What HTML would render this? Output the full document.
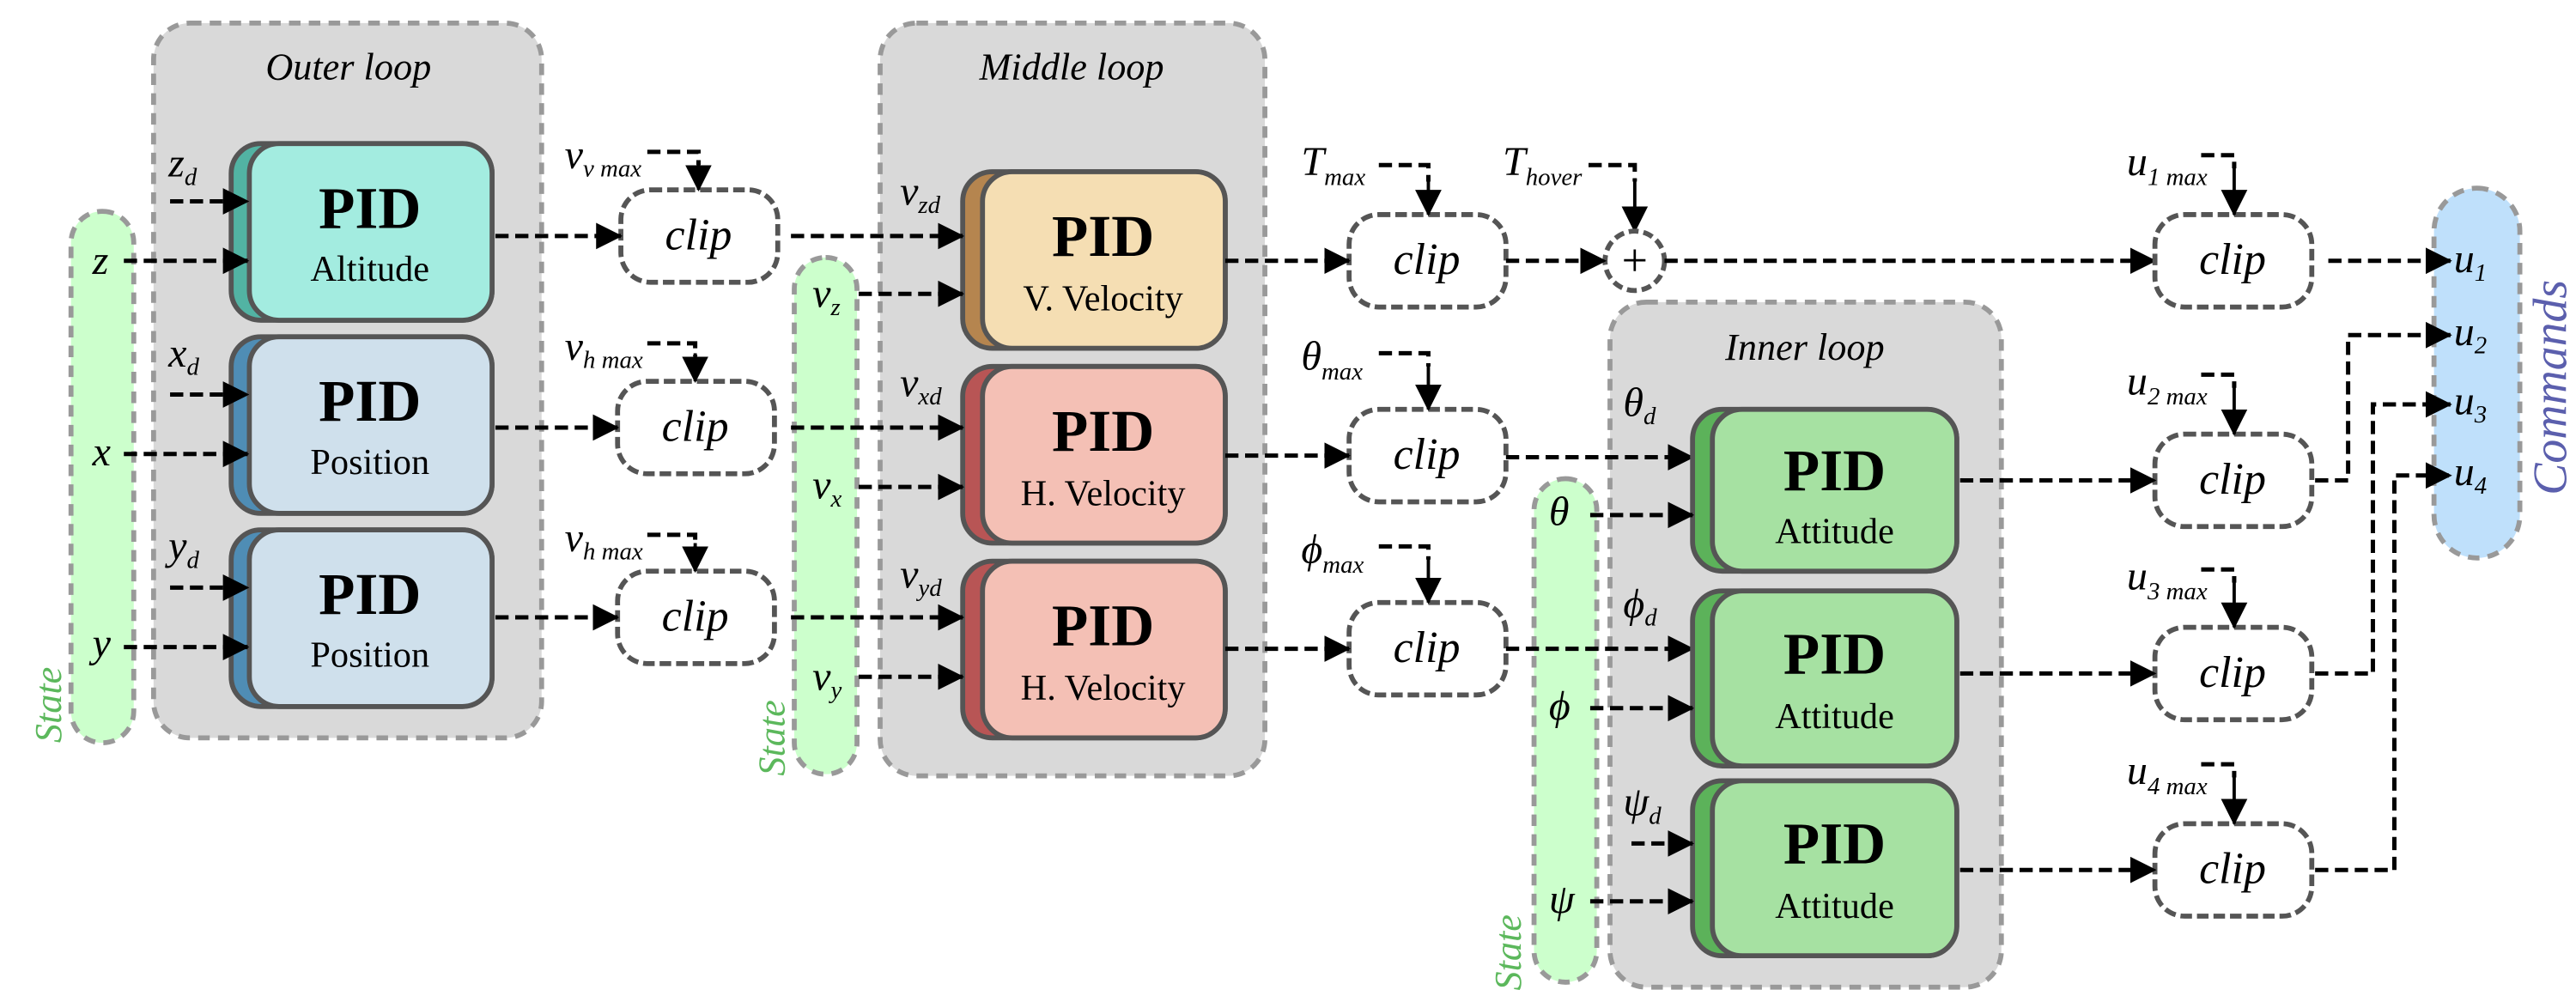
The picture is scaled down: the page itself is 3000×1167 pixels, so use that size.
<!DOCTYPE html>
<html><head><meta charset="utf-8"><style>
html,body{margin:0;padding:0;background:#fff;}
svg{display:block;font-family:"Liberation Serif","DejaVu Serif",serif;}
svg text{font-family:"Liberation Serif","DejaVu Serif",serif;}
.it{font-style:italic;}
.dl{stroke:#000;stroke-width:2.6;stroke-dasharray:8 4;fill:none;}
.sl{stroke:#000;stroke-width:2;fill:none;}
.loop{fill:#d9d9d9;stroke:#999;stroke-width:3;stroke-dasharray:7 5;}
.clip{fill:#fff;stroke:#555;stroke-width:3;stroke-dasharray:7 3;}
.pill{stroke:#999;stroke-width:3;stroke-dasharray:7 5;}
.box{stroke:#555;stroke-width:3;}
.pid{font-weight:bold;font-size:36px;text-anchor:middle;}
.sub{font-size:22px;text-anchor:middle;}
.lab{font-style:italic;font-size:25px;}
.s{font-size:15px;}
.cl{font-style:italic;font-size:27px;text-anchor:middle;}
</style></head><body>
<svg width="3000" height="1167" viewBox="0 0 1560 607" preserveAspectRatio="none" xmlns="http://www.w3.org/2000/svg" font-family="Liberation Serif, serif">
<defs>
<marker id="a" markerUnits="userSpaceOnUse" markerWidth="16" markerHeight="18" viewBox="0 0 16 18" refX="15" refY="9" orient="auto">
<path d="M0,1 L16,9 L0,17 z" fill="#000"/></marker>
</defs>
<!-- loops -->
<rect class="loop" x="93" y="14" width="235" height="433" rx="22"/>
<text class="it" x="211" y="48" font-size="23" text-anchor="middle">Outer loop</text>
<rect class="loop" x="533" y="14" width="233" height="456" rx="22"/>
<text class="it" x="649" y="48" font-size="23" text-anchor="middle">Middle loop</text>
<rect class="loop" x="975" y="183" width="237" height="415" rx="22"/>
<text class="it" x="1093" y="218" font-size="23" text-anchor="middle">Inner loop</text>
<!-- pills -->
<rect class="pill" x="43" y="128" width="38" height="322" rx="19" fill="#ccffcc"/>
<text class="it" transform="translate(37,450) rotate(-90)" font-size="23" fill="#5cb85c">State</text>
<rect class="pill" x="481" y="156" width="38" height="313" rx="19" fill="#ccffcc"/>
<text class="it" transform="translate(475,470) rotate(-90)" font-size="23" fill="#5cb85c">State</text>
<rect class="pill" x="929" y="290" width="38" height="305" rx="19" fill="#ccffcc"/>
<text class="it" transform="translate(921,600) rotate(-90)" font-size="23" fill="#5cb85c">State</text>
<rect class="pill" x="1474" y="114" width="52" height="224" rx="26" fill="#bfe0fb"/>
<text class="it" transform="translate(1554,300) rotate(-90)" font-size="29" fill="#5b5fad">Commands</text>

<!-- outer PIDs -->
<rect class="box" x="140" y="87" width="158" height="107" rx="18" fill="#52b3a3"/>
<rect class="box" x="151" y="87" width="147" height="107" rx="18" fill="#a3ece0"/>
<text class="pid" x="224" y="138">PID</text><text class="sub" x="224" y="170">Altitude</text>
<rect class="box" x="140" y="204" width="158" height="107" rx="18" fill="#4f8db5"/>
<rect class="box" x="151" y="204" width="147" height="107" rx="18" fill="#cfe0ec"/>
<text class="pid" x="224" y="255">PID</text><text class="sub" x="224" y="287">Position</text>
<rect class="box" x="140" y="321" width="158" height="107" rx="18" fill="#4f8db5"/>
<rect class="box" x="151" y="321" width="147" height="107" rx="18" fill="#cfe0ec"/>
<text class="pid" x="224" y="372">PID</text><text class="sub" x="224" y="404">Position</text>
<!-- outer inputs -->
<text class="lab" x="102" y="107">z<tspan class="s" dy="5">d</tspan></text>
<line class="dl" x1="103" y1="122" x2="150" y2="122" marker-end="url(#a)"/>
<text class="lab" x="56" y="166">z</text>
<line class="dl" x1="75" y1="158" x2="150" y2="158" marker-end="url(#a)"/>
<text class="lab" x="102" y="222">x<tspan class="s" dy="5">d</tspan></text>
<line class="dl" x1="103" y1="239" x2="150" y2="239" marker-end="url(#a)"/>
<text class="lab" x="56" y="282">x</text>
<line class="dl" x1="75" y1="275" x2="150" y2="275" marker-end="url(#a)"/>
<text class="lab" x="102" y="339">y<tspan class="s" dy="5">d</tspan></text>
<line class="dl" x1="103" y1="356" x2="150" y2="356" marker-end="url(#a)"/>
<text class="lab" x="56" y="398">y</text>
<line class="dl" x1="75" y1="392" x2="150" y2="392" marker-end="url(#a)"/>

<!-- outer clips -->
<rect class="clip" x="376" y="115" width="95" height="56" rx="18"/><text class="cl" x="423" y="151">clip</text>
<rect class="clip" x="374" y="231" width="95" height="56" rx="18"/><text class="cl" x="421" y="267">clip</text>
<rect class="clip" x="374" y="346" width="95" height="56" rx="18"/><text class="cl" x="421" y="382">clip</text>
<line class="dl" x1="300" y1="143" x2="376" y2="143" marker-end="url(#a)"/>
<line class="dl" x1="300" y1="259" x2="374" y2="259" marker-end="url(#a)"/>
<line class="dl" x1="300" y1="374" x2="374" y2="374" marker-end="url(#a)"/>
<text class="lab" x="342" y="102">v<tspan class="s" dy="5">v max</tspan></text>
<polyline class="dl" points="392,92 423,92 423,100"/><line class="sl" x1="423" y1="98" x2="423" y2="115" marker-end="url(#a)"/>
<text class="lab" x="342" y="218">v<tspan class="s" dy="5">h max</tspan></text>
<polyline class="dl" points="392,208 421,208 421,216"/><line class="sl" x1="421" y1="214" x2="421" y2="231" marker-end="url(#a)"/>
<text class="lab" x="342" y="334">v<tspan class="s" dy="5">h max</tspan></text>
<polyline class="dl" points="392,324 421,324 421,332"/><line class="sl" x1="421" y1="329" x2="421" y2="346" marker-end="url(#a)"/>

<!-- middle PIDs -->
<rect class="box" x="583" y="104" width="159" height="107" rx="18" fill="#b5854f"/>
<rect class="box" x="595" y="104" width="147" height="107" rx="18" fill="#f5deb3"/>
<text class="pid" x="668" y="155">PID</text><text class="sub" x="668" y="188">V. Velocity</text>
<rect class="box" x="583" y="222" width="159" height="107" rx="18" fill="#b85555"/>
<rect class="box" x="595" y="222" width="147" height="107" rx="18" fill="#f4c0b5"/>
<text class="pid" x="668" y="273">PID</text><text class="sub" x="668" y="306">H. Velocity</text>
<rect class="box" x="583" y="340" width="159" height="107" rx="18" fill="#b85555"/>
<rect class="box" x="595" y="340" width="147" height="107" rx="18" fill="#f4c0b5"/>
<text class="pid" x="668" y="391">PID</text><text class="sub" x="668" y="424">H. Velocity</text>
<line class="dl" x1="479" y1="143" x2="583" y2="143" marker-end="url(#a)"/>
<line class="dl" x1="479" y1="259" x2="583" y2="259" marker-end="url(#a)"/>
<line class="dl" x1="479" y1="374" x2="583" y2="374" marker-end="url(#a)"/>
<text class="lab" x="545" y="124">v<tspan class="s" dy="5">zd</tspan></text>
<text class="lab" x="545" y="240">v<tspan class="s" dy="5">xd</tspan></text>
<text class="lab" x="545" y="356">v<tspan class="s" dy="5">yd</tspan></text>
<text class="lab" x="492" y="186">v<tspan class="s" dy="5">z</tspan></text>
<line class="dl" x1="520" y1="178" x2="583" y2="178" marker-end="url(#a)"/>
<text class="lab" x="492" y="302">v<tspan class="s" dy="5">x</tspan></text>
<line class="dl" x1="520" y1="295" x2="583" y2="295" marker-end="url(#a)"/>
<text class="lab" x="492" y="418">v<tspan class="s" dy="5">y</tspan></text>
<line class="dl" x1="520" y1="410" x2="583" y2="410" marker-end="url(#a)"/>

<!-- middle clips -->
<rect class="clip" x="817" y="130" width="95" height="56" rx="18"/><text class="cl" x="864" y="166">clip</text>
<rect class="clip" x="817" y="248" width="95" height="56" rx="18"/><text class="cl" x="864" y="284">clip</text>
<rect class="clip" x="817" y="365" width="95" height="56" rx="18"/><text class="cl" x="864" y="401">clip</text>
<line class="dl" x1="742" y1="158" x2="817" y2="158" marker-end="url(#a)"/>
<line class="dl" x1="742" y1="276" x2="817" y2="276" marker-end="url(#a)"/>
<line class="dl" x1="742" y1="393" x2="817" y2="393" marker-end="url(#a)"/>
<text class="lab" x="788" y="106">T<tspan class="s" dy="6">max</tspan></text>
<polyline class="dl" points="835,100 865,100 865,110"/><line class="sl" x1="865" y1="108" x2="865" y2="130" marker-end="url(#a)"/>
<text class="lab" x="788" y="224">θ<tspan class="s" dy="6">max</tspan></text>
<polyline class="dl" points="835,214 865,214 865,222"/><line class="sl" x1="865" y1="220" x2="865" y2="248" marker-end="url(#a)"/>
<text class="lab" x="788" y="341">ϕ<tspan class="s" dy="6">max</tspan></text>
<polyline class="dl" points="835,331 865,331 865,339"/><line class="sl" x1="865" y1="337" x2="865" y2="365" marker-end="url(#a)"/>
<!-- hover / plus -->
<text class="lab" x="910" y="106">T<tspan class="s" dy="6">hover</tspan></text>
<polyline class="dl" points="962,100 990,100 990,110"/><line class="sl" x1="990" y1="108" x2="990" y2="140" marker-end="url(#a)"/>
<circle cx="990" cy="158" r="18" fill="#fff" stroke="#555" stroke-width="3" stroke-dasharray="6 3"/>
<text x="990" y="167" font-size="28" text-anchor="middle">+</text>
<line class="dl" x1="912" y1="158" x2="972" y2="158" marker-end="url(#a)"/>
<line class="dl" x1="1008" y1="158" x2="1305" y2="158" marker-end="url(#a)"/>
<line class="dl" x1="912" y1="277" x2="1025" y2="277" marker-end="url(#a)"/>
<line class="dl" x1="912" y1="393" x2="1025" y2="393" marker-end="url(#a)"/>

<!-- inner PIDs -->
<rect class="box" x="1025" y="248" width="160" height="98" rx="18" fill="#5cb25a"/>
<rect class="box" x="1037" y="248" width="148" height="98" rx="18" fill="#a6e1a2"/>
<text class="pid" x="1111" y="297">PID</text><text class="sub" x="1111" y="329">Attitude</text>
<rect class="box" x="1025" y="358" width="160" height="106" rx="18" fill="#5cb25a"/>
<rect class="box" x="1037" y="358" width="148" height="106" rx="18" fill="#a6e1a2"/>
<text class="pid" x="1111" y="408">PID</text><text class="sub" x="1111" y="441">Attitude</text>
<rect class="box" x="1025" y="473" width="160" height="106" rx="18" fill="#5cb25a"/>
<rect class="box" x="1037" y="473" width="148" height="106" rx="18" fill="#a6e1a2"/>
<text class="pid" x="1111" y="523">PID</text><text class="sub" x="1111" y="556">Attitude</text>
<text class="lab" x="983" y="252">θ<tspan class="s" dy="5">d</tspan></text>
<text class="lab" x="938" y="318">θ</text>
<line class="dl" x1="963" y1="312" x2="1025" y2="312" marker-end="url(#a)"/>
<text class="lab" x="983" y="374">ϕ<tspan class="s" dy="5">d</tspan></text>
<text class="lab" x="938" y="436">ϕ</text>
<line class="dl" x1="963" y1="429" x2="1025" y2="429" marker-end="url(#a)"/>
<text class="lab" x="983" y="494">ψ<tspan class="s" dy="5">d</tspan></text>
<line class="dl" x1="988" y1="511" x2="1025" y2="511" marker-end="url(#a)"/>
<text class="lab" x="938" y="553">ψ</text>
<line class="dl" x1="963" y1="546" x2="1025" y2="546" marker-end="url(#a)"/>

<!-- inner clips -->
<rect class="clip" x="1305" y="130" width="95" height="56" rx="18"/><text class="cl" x="1352" y="166">clip</text>
<rect class="clip" x="1305" y="263" width="95" height="56" rx="18"/><text class="cl" x="1352" y="299">clip</text>
<rect class="clip" x="1305" y="380" width="95" height="56" rx="18"/><text class="cl" x="1352" y="416">clip</text>
<rect class="clip" x="1305" y="499" width="95" height="56" rx="18"/><text class="cl" x="1352" y="535">clip</text>
<line class="dl" x1="1187" y1="291" x2="1305" y2="291" marker-end="url(#a)"/>
<line class="dl" x1="1187" y1="408" x2="1305" y2="408" marker-end="url(#a)"/>
<line class="dl" x1="1187" y1="527" x2="1305" y2="527" marker-end="url(#a)"/>
<text class="lab" x="1288" y="106">u<tspan class="s" dy="6">1 max</tspan></text>
<polyline class="dl" points="1333,94 1353,94 1353,102"/><line class="sl" x1="1353" y1="100" x2="1353" y2="130" marker-end="url(#a)"/>
<text class="lab" x="1288" y="239">u<tspan class="s" dy="6">2 max</tspan></text>
<polyline class="dl" points="1333,227 1353,227 1353,235"/><line class="sl" x1="1353" y1="233" x2="1353" y2="263" marker-end="url(#a)"/>
<text class="lab" x="1288" y="357">u<tspan class="s" dy="6">3 max</tspan></text>
<polyline class="dl" points="1333,345 1353,345 1353,353"/><line class="sl" x1="1353" y1="351" x2="1353" y2="380" marker-end="url(#a)"/>
<text class="lab" x="1288" y="475">u<tspan class="s" dy="6">4 max</tspan></text>
<polyline class="dl" points="1333,463 1353,463 1353,471"/><line class="sl" x1="1353" y1="469" x2="1353" y2="499" marker-end="url(#a)"/>

<!-- outputs -->
<line class="dl" x1="1410" y1="158" x2="1484" y2="158" marker-end="url(#a)"/>
<polyline class="dl" points="1402,291 1422,291 1422,203 1484,203" marker-end="url(#a)"/>
<polyline class="dl" points="1402,408 1437,408 1437,245 1484,245" marker-end="url(#a)"/>
<polyline class="dl" points="1402,527 1450,527 1450,288 1484,288" marker-end="url(#a)"/>
<text class="lab" x="1486" y="165">u<tspan class="s" dy="5">1</tspan></text>
<text class="lab" x="1486" y="209">u<tspan class="s" dy="5">2</tspan></text>
<text class="lab" x="1486" y="251">u<tspan class="s" dy="5">3</tspan></text>
<text class="lab" x="1486" y="294">u<tspan class="s" dy="5">4</tspan></text>
</svg>
</body></html>
